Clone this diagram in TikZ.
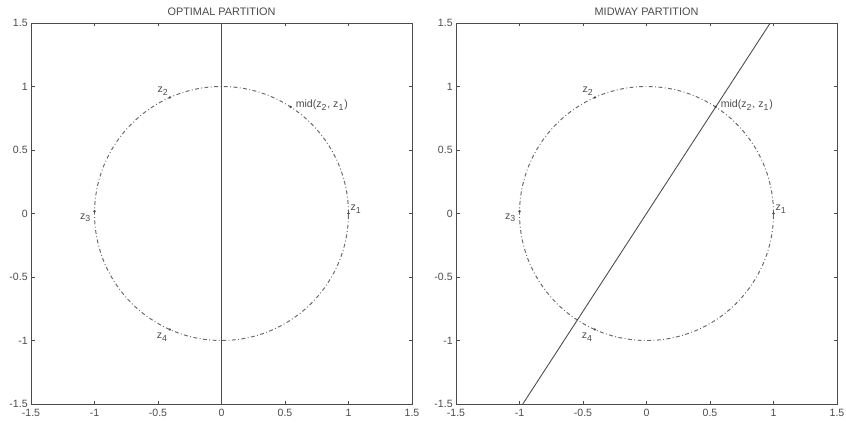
\documentclass[tikz,border=0pt]{standalone}
\usepackage{fontspec}
\setmainfont{Liberation Sans}
\usetikzlibrary{positioning, calc}
\definecolor{ink}{RGB}{75,75,75}
\definecolor{curve}{RGB}{105,105,105}

\begin{document}
\begin{tikzpicture}[
  x=2.54cm, y=2.54cm,
  axbox/.style={draw=ink, line width=0.5pt},
  tickmark/.style={draw=ink, line width=0.4pt},
  ticklbl/.style={font=\fontsize{6}{7}\selectfont, text=ink, inner sep=0pt},
  ptlbl/.style={font=\fontsize{6}{7}\selectfont, text=ink, inner sep=0.3pt},
  ttl/.style={font=\fontsize{6.2}{7}\selectfont, text=ink, anchor=base, inner sep=0pt},
  dashcirc/.style={draw=curve, line width=0.55pt,
                   dash pattern=on 2.2pt off 1.4pt on 0.5pt off 1.4pt},
  partline/.style={draw=ink, line width=0.5pt},
  ptdot/.style={circle, fill=ink, inner sep=0pt, minimum size=1.5pt}
]
\useasboundingbox (0,0) rectangle (16.92cm,8.48cm);

% two panels, same frame, circle and points
\foreach \cx/\pn/\ttltext in {4.43/L/OPTIMAL PARTITION, 12.93/R/MIDWAY PARTITION}{
\begin{scope}[shift={(\cx cm,4.21cm)}]
  \draw[axbox] (-1.5,-1.5) rectangle (1.5,1.5);
  \node[ttl] (\pn-title) at (0,1.5) [yshift=0.15cm] {\ttltext};

  % ticks and tick labels
  \foreach \t/\lab [count=\i] in {-1.5/-1.5,-1/-1,-0.5/-0.5,0/0,0.5/0.5,1/1,1.5/1.5}{
    \draw[tickmark] (\t,-1.5) -- ++(0,0.07cm);
    \draw[tickmark] (\t,1.5) -- ++(0,-0.07cm);
    \draw[tickmark] (-1.5,\t) -- ++(0.07cm,0);
    \draw[tickmark] (1.5,\t) -- ++(-0.07cm,0);
    \node[ticklbl, anchor=north] (\pn-xl\i) at (\t,-1.5) [yshift=-0.1cm] {\lab};
    \node[ticklbl, anchor=east] (\pn-yl\i) at (-1.5,\t) [xshift=-0.06cm] {\lab};
  }

  \draw[dashcirc] (0,0) circle (1);

  % points on the circle
  \node[ptdot] (\pn-z1) at (0:1) {};
  \node[ptdot] (\pn-z2) at (114:1) {};
  \node[ptdot] (\pn-z3) at (179:1) {};
  \node[ptdot] (\pn-z4) at (246:1) {};
  \node[ptdot] (\pn-mid) at (57:1) {};

  \node[ptlbl, above right=-1pt and 0pt of \pn-z1] {z\textsubscript{1}};
  \node[ptlbl, above left=0pt and -0.5pt of \pn-z2] {z\textsubscript{2}};
  \node[ptlbl, below left=0.2pt and 0.8pt of \pn-z3] {z\textsubscript{3}};
  \node[ptlbl, below left=1pt and 0pt of \pn-z4] {z\textsubscript{4}};
  \node[ptlbl, right=1.5pt of \pn-mid, yshift=1pt] {mid(z\textsubscript{2}, z\textsubscript{1})};
\end{scope}
}

% partition lines
\begin{scope}[shift={(4.43cm,4.21cm)}]
  \coordinate (L-bot) at (0,-1.5);
  \coordinate (L-top) at (0,1.5);
\end{scope}
\begin{scope}[shift={(12.93cm,4.21cm)}]
  \coordinate (R-bot) at (-0.974,-1.5);
  \coordinate (R-top) at (0.974,1.5);
\end{scope}
\draw[partline] (L-bot) -- (L-top);
\draw[partline] (R-bot) -- (R-top);
\end{tikzpicture}
\end{document}
